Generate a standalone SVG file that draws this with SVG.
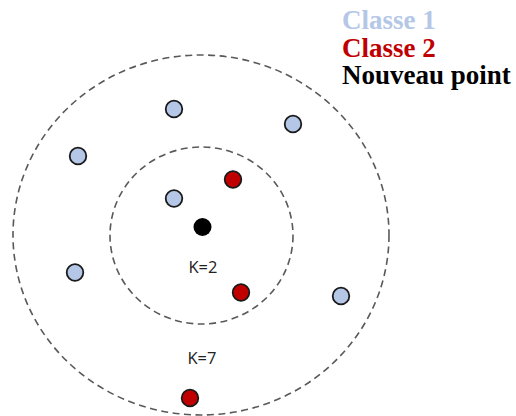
<svg xmlns="http://www.w3.org/2000/svg" width="516" height="416" viewBox="0 0 516 416">
<style>
.ring{fill:none;stroke:#595959;stroke-width:1.6;stroke-dasharray:7 4.5}
.c1{fill:#b4c7e7;stroke:#1a1a1a;stroke-width:1.8}
.c2{fill:#c00000;stroke:#1a1a1a;stroke-width:1.8}
.np{fill:#000}
.k{font-family:"Open Sans","Liberation Sans",sans-serif;font-size:16.5px;fill:#222;text-anchor:middle}
.lg{font-family:"Liberation Serif",serif;font-weight:bold;font-size:27px}
</style>
<rect width="516" height="416" fill="#fff"/>
<g id="rings">
<ellipse id="ring-k7" class="ring" cx="201" cy="235" rx="188" ry="180"/>
<ellipse id="ring-k2" class="ring" cx="201.5" cy="235.5" rx="91.5" ry="88.5"/>
</g>
<g id="labels">
<text class="k" x="203" y="273">K=2</text>
<text class="k" x="202" y="364">K=7</text>
</g>
<g id="p1"><circle class="c1" cx="174" cy="109" r="8.3"/></g>
<g id="p2"><circle class="c1" cx="293" cy="124" r="8.3"/></g>
<g id="p3"><circle class="c1" cx="78" cy="156" r="8.3"/></g>
<g id="p4"><circle class="c2" cx="233" cy="179.5" r="8.3"/></g>
<g id="p5"><circle class="c1" cx="174" cy="198.5" r="8.3"/></g>
<g id="new"><circle class="np" cx="202.5" cy="227" r="9"/></g>
<g id="p6"><circle class="c1" cx="75" cy="272.5" r="8.3"/></g>
<g id="p7"><circle class="c2" cx="241" cy="292.5" r="8.3"/></g>
<g id="p8"><circle class="c1" cx="341" cy="296" r="8.3"/></g>
<g id="p9"><circle class="c2" cx="190" cy="398" r="8.3"/></g>
<g id="legend">
<text class="lg" x="342" y="29" fill="#b4c7e7">Classe 1</text>
<text class="lg" x="342" y="57" fill="#c00000">Classe 2</text>
<text class="lg" x="342" y="84" fill="#000">Nouveau point</text>
</g>
</svg>
